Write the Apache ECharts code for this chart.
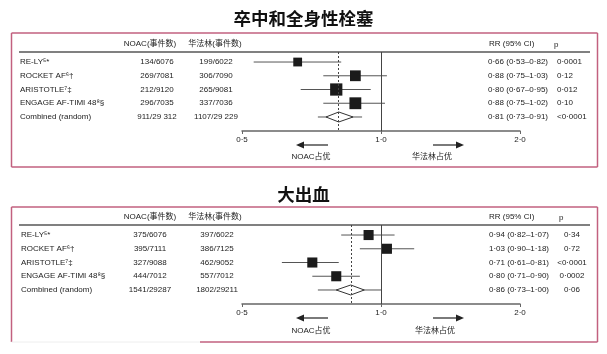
<!DOCTYPE html>
<html>
<head>
<meta charset="utf-8">
<script src="https://cdn.jsdelivr.net/npm/echarts@6/dist/echarts.min.js"></script>
<style>
  html, body { margin: 0; padding: 0; background: #fff; }
  #main { width: 607px; height: 354px; }
</style>
</head>
<body>
<div id="main"></div>
<script>
// 数据
const studies = ['RE-LY⁵*', 'ROCKET AF⁶†', 'ARISTOTLE⁷‡', 'ENGAGE AF-TIMI 48⁸§', 'Combined (random)'];
const tickValues = [0.5, 1, 2];
const tickLabels = ['0·5', '1·0', '2·0'];

// 卒中和全身性栓塞
const strokeNoac = ['134/6076', '269/7081', '212/9120', '296/7035', '911/29 312'];
const strokeWarf = ['199/6022', '306/7090', '265/9081', '337/7036', '1107/29 229'];
const strokeRR = [0.66, 0.88, 0.80, 0.88, 0.81];
const strokeLo = [0.53, 0.75, 0.67, 0.75, 0.73];
const strokeHi = [0.82, 1.03, 0.95, 1.02, 0.91];
const strokeP = ['0·0001', '0·12', '0·012', '0·10', '<0·0001'];
const strokeWeight = [16, 24, 31, 29];
const strokeDiamond = [0.76, 0.87];

// 大出血
const bleedNoac = ['375/6076', '395/7111', '327/9088', '444/7012', '1541/29287'];
const bleedWarf = ['397/6022', '386/7125', '462/9052', '557/7012', '1802/29211'];
const bleedRR = [0.94, 1.03, 0.71, 0.80, 0.86];
const bleedLo = [0.82, 0.90, 0.61, 0.71, 0.73];
const bleedHi = [1.07, 1.18, 0.81, 0.90, 1.00];
const bleedP = ['0·34', '0·72', '<0·0001', '0·0002', '0·06'];
const bleedWeight = [21, 21, 21, 21];
const bleedDiamond = [0.80, 0.92];

const latin = "'Liberation Sans', Arial, 'Noto Sans CJK SC', sans-serif";
const txtColor = '#222';
const fs = 8;

const panels = [
  {
    title: '卒中和全身性栓塞', titleY: 16, off: 0,
    noac: strokeNoac, warf: strokeWarf, rr: strokeRR, lo: strokeLo, hi: strokeHi, p: strokeP,
    weight: strokeWeight, diamond: strokeDiamond,
    nameX: 20, noacX: 157, warfX: 216, rrX: 488, pX: 557, pAlign: 'left'
  },
  {
    title: '大出血', titleY: 192, off: 173,
    noac: bleedNoac, warf: bleedWarf, rr: bleedRR, lo: bleedLo, hi: bleedHi, p: bleedP,
    weight: bleedWeight, diamond: bleedDiamond,
    nameX: 21, noacX: 150, warfX: 217, rrX: 489, pX: 572, pAlign: 'center'
  }
];

function txt(text, x, y, opt) {
  opt = opt || {};
  return {
    type: 'text', silent: true,
    style: {
      text: text, x: x, y: y,
      align: opt.align || 'left', textAlign: opt.align || 'left',
      verticalAlign: 'middle', textVerticalAlign: 'middle',
      fill: opt.color || txtColor,
      fontSize: opt.size || fs,
      fontWeight: opt.weight || 'normal',
      fontFamily: opt.family || latin
    }
  };
}

function fmt(v) {
  return v.toFixed(2).replace('.', '·');
}

// 方块 / 菱形 + 置信区间
function renderMark(params, api) {
  const row = api.value(1);
  const pMid = api.coord([api.value(0), row]);
  const pLo = api.coord([api.value(2), row]);
  const pHi = api.coord([api.value(3), row]);
  const children = [{
    type: 'line',
    shape: { x1: pLo[0], y1: pLo[1], x2: pHi[0], y2: pHi[1] },
    style: { stroke: '#555', lineWidth: 1 }
  }];
  const w = api.value(4);
  if (w > 0) {
    const s = Math.sqrt(w) * 2.2;
    children.push({
      type: 'rect',
      shape: { x: pMid[0] - s / 2, y: pMid[1] - s / 2, width: s, height: s },
      style: { fill: '#1b1b1b' }
    });
  } else {
    const a = api.coord([api.value(5), row]);
    const b = api.coord([api.value(6), row]);
    children.push({
      type: 'polygon',
      shape: { points: [[a[0], a[1]], [pMid[0], pMid[1] - 5], [b[0], b[1]], [pMid[0], pMid[1] + 5]] },
      style: { fill: '#fff', stroke: '#333', lineWidth: 1 }
    });
  }
  return { type: 'group', children: children };
}

const grids = [], xAxes = [], yAxes = [], series = [], graphics = [], titles = [];

panels.forEach(function (pn, i) {
  const o = pn.off;
  grids.push({ left: 242, right: 87, top: 52 + o, height: 79 });
  xAxes.push({
    type: 'log', logBase: 2, min: 0.5, max: 2, gridIndex: i,
    axisLine: { show: true, onZero: false, lineStyle: { color: '#666', width: 1.5 } },
    axisTick: { show: true, length: 3, lineStyle: { color: '#666' }, customValues: tickValues },
    axisLabel: {
      fontSize: fs, color: txtColor, margin: 5, fontFamily: latin,
      customValues: tickValues,
      formatter: function (v) { return tickLabels[tickValues.indexOf(v)] || ''; }
    },
    splitLine: { show: false }
  });
  yAxes.push({ type: 'value', gridIndex: i, min: -0.73, max: 5.02, inverse: true, show: false });

  const markData = pn.rr.map(function (v, k) {
    const comb = k === pn.rr.length - 1;
    return [v, k, pn.lo[k], pn.hi[k], comb ? 0 : pn.weight[k],
      comb ? pn.diamond[0] : 0, comb ? pn.diamond[1] : 0];
  });

  series.push({
    type: 'custom', xAxisIndex: i, yAxisIndex: i, silent: true,
    renderItem: renderMark, data: markData, z: 3,
    markLine: {
      silent: true, symbol: 'none', label: { show: false },
      data: [
        { xAxis: 1, lineStyle: { type: 'solid', color: '#444', width: 1 } },
        { xAxis: pn.rr[pn.rr.length - 1], lineStyle: { type: [2, 2], color: '#444', width: 1 } }
      ]
    }
  });

  // 表格文字
  series.push({
    type: 'custom', xAxisIndex: i, yAxisIndex: i, silent: true,
    data: studies.map(function (s, k) { return [1, k]; }),
    renderItem: function (params, api) {
      const k = params.dataIndex;
      const y = api.coord([1, api.value(1)])[1];
      return {
        type: 'group', children: [
          txt(studies[k], pn.nameX, y),
          txt(pn.noac[k], pn.noacX, y, { align: 'center' }),
          txt(pn.warf[k], pn.warfX, y, { align: 'center' }),
          txt(fmt(pn.rr[k]) + ' (' + fmt(pn.lo[k]) + '–' + fmt(pn.hi[k]) + ')', pn.rrX, y),
          txt(pn.p[k], pn.pX, y, { align: pn.pAlign })
        ]
      };
    }
  });

  titles.push({
    text: pn.title, left: 'center', top: pn.titleY - 11,
    textStyle: { fontSize: 17.5, fontWeight: 'bold', color: '#111', fontFamily: "'Noto Sans CJK SC', sans-serif" }
  });

  // 外框
  const boxTop = 33 + o + (i ? 1 : 0);
  const boxBot = 167 + o + (i ? 2 : 0);
  const pink = '#c2607f';
  graphics.push({ type: 'line', shape: { x1: 11.5, y1: boxTop, x2: 597.5, y2: boxTop }, style: { stroke: pink, lineWidth: 1.5 } });
  graphics.push({ type: 'line', shape: { x1: 11.5, y1: boxTop, x2: 11.5, y2: boxBot }, style: { stroke: pink, lineWidth: 1.5 } });
  graphics.push({ type: 'line', shape: { x1: 597.5, y1: boxTop, x2: 597.5, y2: boxBot }, style: { stroke: pink, lineWidth: 1.5 } });
  if (i === 0) {
    graphics.push({ type: 'line', shape: { x1: 11.5, y1: boxBot, x2: 597.5, y2: boxBot }, style: { stroke: pink, lineWidth: 1.5 } });
  } else {
    graphics.push({ type: 'line', shape: { x1: 11.5, y1: boxBot, x2: 200, y2: boxBot }, style: { stroke: '#eee', lineWidth: 1 } });
    graphics.push({ type: 'line', shape: { x1: 200, y1: boxBot, x2: 597.5, y2: boxBot }, style: { stroke: pink, lineWidth: 1.5 } });
  }

  // 表头
  graphics.push({ type: 'line', shape: { x1: 19, y1: 52 + o, x2: 590, y2: 52 + o }, style: { stroke: '#808080', lineWidth: 2 } });
  graphics.push(txt('NOAC(事件数)', 150, 44 + o, { align: 'center' }));
  graphics.push(txt('华法林(事件数)', 215, 44 + o, { align: 'center' }));
  graphics.push(txt('RR (95% CI)', 489, 44 + o));
  graphics.push(txt('p', 554 + (i ? 5 : 0), 45 + o));

  // 箭头
  const ay = 145 + o;
  graphics.push({ type: 'line', shape: { x1: 302, y1: ay, x2: 328, y2: ay }, style: { stroke: '#222', lineWidth: 1.2 } });
  graphics.push({ type: 'polygon', shape: { points: [[296, ay], [304, ay - 3.5], [304, ay + 3.5]] }, style: { fill: '#222' } });
  graphics.push({ type: 'line', shape: { x1: 433, y1: ay, x2: 458, y2: ay }, style: { stroke: '#222', lineWidth: 1.2 } });
  graphics.push({ type: 'polygon', shape: { points: [[464, ay], [456, ay - 3.5], [456, ay + 3.5]] }, style: { fill: '#222' } });
  graphics.push(txt('NOAC占优', 311, 157 + o + (i ? 1 : 0), { align: 'center' }));
  graphics.push(txt('华法林占优', 432 + (i ? 3 : 0), 157 + o + (i ? 1 : 0), { align: 'center' }));
});

const chart = echarts.init(document.getElementById('main'));
chart.setOption({
  animation: false,
  backgroundColor: '#fff',
  title: titles,
  grid: grids,
  xAxis: xAxes,
  yAxis: yAxes,
  series: series,
  graphic: graphics
});
window.onresize = function () {
  chart.resize();
};
</script>
</body>
</html>
